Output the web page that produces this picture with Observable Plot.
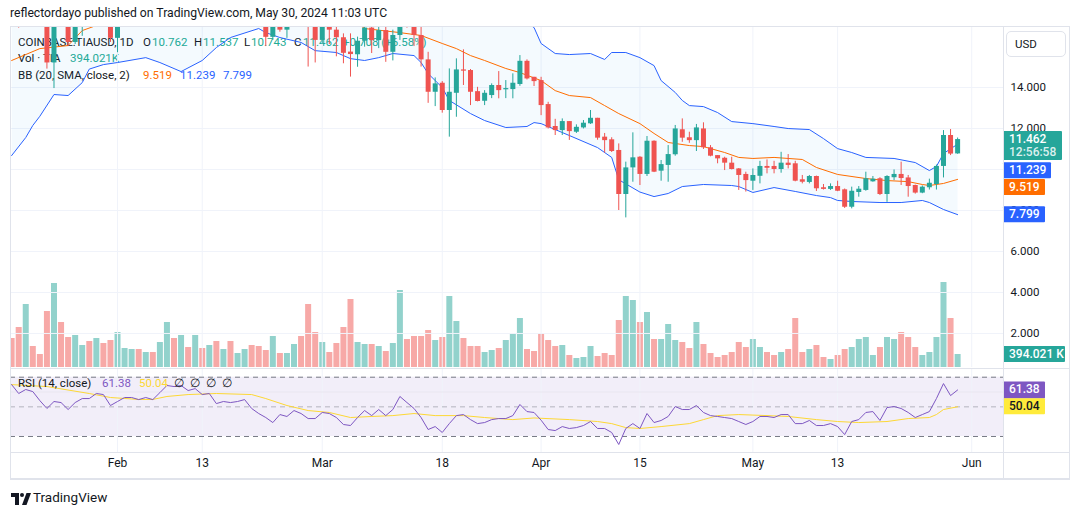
<!DOCTYPE html>
<html>
<head>
<meta charset="utf-8">
<script src="https://cdn.jsdelivr.net/npm/d3@7"></script>
<script src="https://cdn.jsdelivr.net/npm/@observablehq/plot@0.6"></script>
<style>
  body { margin: 0; background: #fff; }
  #chart { position: relative; width: 1080px; height: 515px; background: #fff; overflow: hidden;
           font-family: Roboto, "Liberation Sans", sans-serif; color: #131722; }
  #chart svg { position: absolute; left: 0; }
  .txt { position: absolute; white-space: pre; }
  .seg { position: absolute; white-space: pre; font-size: 11.5px; line-height: 16px; }
  .line { position: absolute; background: #e0e3eb; }
</style>
</head>
<body>
<div id="chart"></div>
<script>
// ---- TIA / USD daily, Coinbase (17 Jan – 30 May 2024) ----
const firstDay = "2024-01-17";
const open = [
  19.2, 18.9, 17.4, 18.3, 17.9, 17.4, 15.2, 17.6, 17.2, 16.2, 17.3, 18.0, 17.7, 18.3, 17.9,
  16.4, 17.4, 17.8, 18.1, 17.8, 18.2, 18.0, 18.8, 19.9, 19.7, 20.5, 19.9, 20.3, 19.6, 19.8,
  18.9, 19.1, 18.7, 19.0, 19.1, 18.2, 17.6, 16.45, 17.2, 16.8, 17.3, 17.9, 17.5, 17.0,
  16.3, 17.3, 16.8, 16.43, 15.73, 15.6, 16.26, 16.9, 16.29, 16.78, 15.72, 16.54, 17.8, 17.4,
  16.54, 15.35, 13.77, 14.21, 12.88, 13.72, 14.86, 14.83, 13.8, 13.33, 13.61, 14.1, 13.89,
  13.9, 14.15, 15.28, 14.5,
  14.34, 13.17, 12.1, 11.9, 12.34, 11.82, 12.03, 12.23, 12.5, 11.58, 11.45, 10.93, 8.78,
  10.08, 10.6, 9.76, 11.38, 9.92, 10.2, 10.72, 11.94, 11.55, 11.41, 11.98, 11.06, 10.68,
  10.55, 10.31, 10.03, 9.76,
  9.43, 9.67, 10.15, 10.15, 10.0, 10.31, 10.28, 9.5, 9.37, 9.66, 9.11, 9.03, 9.17, 9.01,
  8.16, 8.88, 8.98, 9.4, 9.55, 8.78, 9.6, 9.76, 9.59, 9.22, 8.85, 9.11, 9.27, 10.15, 11.66, 10.762
];
const high = [
  19.8, 19.1, 18.6, 18.5, 18.1, 17.6, 17.9, 17.9, 17.4, 17.5, 18.2, 18.4, 18.6, 18.8, 18.0,
  17.6, 18.0, 18.3, 18.3, 18.4, 18.4, 19.0, 20.2, 20.4, 20.9, 20.7, 20.6, 20.5, 20.1, 20.0,
  19.5, 19.2, 19.2, 19.4, 19.3, 18.3, 17.7, 17.5, 17.3, 17.5, 18.1, 18.3, 17.9, 17.4,
  17.6, 17.5, 17.0, 16.62, 16.62, 16.46, 17.3, 17.2, 17.0, 17.0, 16.8, 18.5, 18.2, 17.7,
  17.1, 15.72, 14.47, 14.29, 14.91, 15.4, 15.84, 14.88, 14.01, 13.85, 14.18, 14.78, 14.34,
  14.67, 15.56, 15.35, 14.5,
  14.5, 13.28, 12.45, 12.47, 12.34, 12.18, 12.39, 12.88, 12.5, 11.76, 11.55, 11.25, 10.36,
  11.79, 10.63, 11.61, 11.4, 10.44, 11.17, 12.15, 12.47, 11.82, 12.2, 12.28, 11.17, 10.68,
  10.6, 10.6, 10.05, 9.87,
  10.03, 10.4, 10.47, 10.4, 10.84, 10.73, 10.4, 9.71, 9.71, 9.68, 9.27, 9.3, 9.43, 9.05,
  9.14, 9.17, 9.87, 9.66, 9.6, 9.7, 9.98, 10.36, 9.71, 9.24, 9.2, 9.53, 10.22, 11.9, 11.95, 11.537
];
const low = [
  18.6, 16.9, 16.95, 17.6, 17.2, 14.9, 13.95, 17.0, 16.0, 16.1, 16.5, 17.5, 17.4, 17.6, 16.2,
  15.7, 17.1, 17.5, 17.6, 17.5, 17.7, 17.9, 18.6, 19.3, 19.5, 19.6, 19.4, 19.2, 19.3, 18.6,
  18.6, 18.4, 18.5, 18.6, 17.9, 17.2, 16.0, 16.3, 16.7, 16.4, 17.0, 17.2, 15.0, 15.2,
  16.1, 16.1, 15.5, 15.16, 14.51, 14.99, 15.97, 15.66, 15.9, 15.23, 15.3, 16.3, 16.9, 16.0,
  15.0, 13.23, 13.07, 12.75, 11.58, 12.55, 14.1, 13.12, 13.3, 13.12, 13.46, 13.45, 13.46,
  13.45, 14.06, 14.37, 14.05,
  12.63, 11.98, 11.66, 11.66, 11.42, 11.76, 11.98, 12.2, 11.43, 10.8, 10.83, 8.0, 7.64,
  9.38, 9.22, 9.66, 9.85, 9.43, 9.38, 10.65, 11.33, 11.28, 10.88, 10.98, 10.62, 10.28,
  9.95, 9.98, 8.98, 8.9,
  8.98, 9.3, 9.79, 9.79, 9.82, 10.03, 9.4, 9.3, 9.3, 8.93, 9.0, 8.98, 8.92, 8.1,
  8.08, 8.65, 8.94, 9.38, 8.73, 8.4, 9.46, 9.22, 8.65, 8.8, 8.82, 9.0, 9.0, 9.59, 10.68, 10.743
];
const close = [
  18.9, 17.4, 18.3, 17.9, 17.4, 15.2, 17.6, 17.2, 16.2, 17.3, 18.0, 17.7, 18.3, 17.9, 16.4,
  17.4, 17.8, 18.1, 17.8, 18.2, 18.0, 18.8, 19.9, 19.7, 20.5, 19.9, 20.3, 19.6, 19.8, 18.9,
  19.1, 18.7, 19.0, 19.1, 18.2, 17.6, 16.45, 17.2, 16.8, 17.3, 17.9, 17.5, 17.0, 16.3,
  17.3, 16.8, 16.43, 15.67, 15.61, 16.26, 16.9, 16.29, 16.78, 15.72, 16.54, 17.8, 17.4, 16.54,
  15.35, 13.77, 14.18, 12.88, 13.77, 14.86, 14.8, 13.77, 13.32, 13.72, 14.1, 13.85, 13.95,
  14.21, 15.28, 14.42, 14.29,
  13.12, 12.03, 11.9, 12.34, 11.85, 12.06, 12.26, 12.5, 11.53, 11.41, 10.88, 8.78, 10.08,
  10.57, 9.76, 11.38, 9.87, 10.24, 10.73, 11.98, 11.53, 11.41, 12.03, 11.06, 10.65, 10.52,
  10.31, 10.0, 9.71, 9.46,
  9.71, 10.15, 10.06, 10.0, 10.31, 10.2, 9.43, 9.38, 9.66, 9.06, 9.03, 9.17, 8.94, 8.16,
  8.94, 9.04, 9.55, 9.53, 8.78, 9.66, 9.76, 9.56, 9.17, 8.85, 9.14, 9.33, 10.15, 11.66, 10.754, 11.462
];
// volume, thousands of TIA
const volume = [
  879, 1212, 1910, 637, 394, 1697, 2546, 1364, 909, 970, 667, 788, 879, 727, 818,
  1061, 576, 546, 546, 455, 455, 758, 1364, 879, 970, 606, 970, 576, 667, 788,
  546, 788, 424, 546, 667, 637, 515, 940, 424, 424, 697, 940, 1910, 1061,
  758, 455, 727, 1212, 2061, 758, 697, 697, 637, 485, 727, 2334, 849, 940,
  940, 1121, 818, 909, 2152, 1394, 879, 637, 637, 455, 515, 576, 818,
  1000, 1485, 546, 485,
  1000, 818, 637, 667, 364, 273, 303, 637, 333, 424, 364, 1425, 2152,
  2031, 1364, 1667, 849, 849, 1303, 818, 758, 576, 1364, 697, 424, 303,
  364, 455, 758, 606,
  849, 606, 455, 364, 455, 546, 1485, 455, 546, 667, 303, 242, 364, 546,
  606, 849, 909, 364, 606, 909, 849, 1061, 909, 606, 364, 455, 909, 2576, 1485, 394.021
];
// RSI (14, close)
const rsi = [
  65.0, 59.0, 61.7, 60.3, 54.2, 48.9, 53.6, 52.9, 48.2, 52.9, 55.6, 55.6, 59.0, 58.3, 50.9,
  53.6, 56.3, 56.3, 54.9, 56.3, 54.9, 59.6, 64.4, 63.7, 64.4, 61.0, 62.3, 58.3, 59.0, 52.2,
  53.6, 52.9, 53.6, 54.9, 48.9, 45.5, 42.8, 39.4, 44.8, 43.5, 47.5, 45.5, 42.1, 42.1,
  46.2, 45.5, 42.8, 38.1, 37.4, 42.8, 47.5, 44.1, 48.2, 44.1, 48.2, 57.0, 52.9, 48.9,
  42.8, 34.7, 36.7, 32.7, 38.7, 44.1, 44.8, 41.4, 38.7, 39.4, 41.4, 42.1, 42.1,
  44.1, 51.6, 46.8, 46.2,
  41.0, 34.7, 34.0, 36.7, 35.4, 36.0, 37.4, 40.1, 35.4, 35.4, 32.7, 24.6, 35.4,
  38.7, 35.4, 45.5, 39.4, 40.8, 43.5, 50.2, 48.2, 48.2, 50.9, 46.2, 44.1, 43.5,
  42.8, 42.1, 40.1, 38.1,
  40.1, 43.5, 43.5, 42.8, 44.8, 44.8, 38.7, 38.7, 40.8, 37.4, 37.4, 38.7, 36.7, 31.3,
  40.1, 41.4, 46.2, 46.8, 40.8, 49.5, 50.2, 48.9, 46.2, 42.8, 44.8, 46.8, 55.6, 65.7, 57.6, 61.38
];
// RSI moving average (read at turning points)
const rsiMaDates = ["2024-01-17","2024-01-22","2024-01-28","2024-01-31","2024-02-04","2024-02-06","2024-02-08",
  "2024-02-11","2024-02-15","2024-02-20","2024-02-22","2024-02-25","2024-02-28","2024-03-02","2024-03-05",
  "2024-03-08","2024-03-11","2024-03-14","2024-03-17","2024-03-21","2024-03-24","2024-03-28","2024-03-31",
  "2024-04-05","2024-04-09","2024-04-11","2024-04-13","2024-04-15","2024-04-18","2024-04-22","2024-04-24",
  "2024-04-26","2024-04-29","2024-05-03","2024-05-06","2024-05-10","2024-05-13","2024-05-16","2024-05-20",
  "2024-05-23","2024-05-26","2024-05-27","2024-05-28","2024-05-30"];
const rsiMaValues = [65.0, 63.7, 59.0, 56.3, 55.0, 55.0, 57.0, 58.3, 59.0, 58.3, 55.6, 50.9, 47.5, 46.2, 42.8,
  43.5, 44.1, 45.5, 44.1, 44.1, 42.8, 41.4, 42.5, 41.4, 40.1, 38.7, 36.0, 35.4, 36.7, 38.7, 41.4,
  44.1, 44.8, 44.1, 43.5, 41.4, 40.1, 39.4, 40.1, 42.1, 42.8, 44.8, 48.2, 50.04];
// Bollinger Bands (20, SMA, close, 2)
const upperDates = ["2024-01-17","2024-01-25","2024-02-01","2024-02-08","2024-02-15","2024-02-22","2024-03-01",
  "2024-03-07","2024-03-15","2024-03-22","2024-03-27","2024-03-31","2024-04-01","2024-04-03","2024-04-05",
  "2024-04-08","2024-04-10","2024-04-11","2024-04-13","2024-04-15","2024-04-17","2024-04-18","2024-04-20",
  "2024-04-21","2024-04-22","2024-04-24","2024-04-26","2024-04-28","2024-05-01","2024-05-04","2024-05-06",
  "2024-05-09","2024-05-11","2024-05-13","2024-05-15","2024-05-17","2024-05-21","2024-05-24","2024-05-26",
  "2024-05-27","2024-05-28","2024-05-30"];
const upperValues = [19.96, 18.5, 19.6, 20.8, 21.5, 20.9, 20.4, 18.44, 17.86, 18.39, 17.8, 16.93, 16.15, 15.66, 15.61,
  15.66, 15.37, 15.71, 15.71, 15.46, 15.07, 14.34, 13.76, 13.37, 13.12, 13.07, 12.78, 12.34, 12.24, 12.10, 12.0,
  11.95, 11.51, 11.02, 10.83, 10.59, 10.54, 10.34, 9.95, 10.15, 10.78, 11.239];
const basisDates = ["2024-01-17","2024-01-21","2024-01-25","2024-01-27","2024-02-01","2024-02-08","2024-02-15",
  "2024-02-22","2024-03-01","2024-03-05","2024-03-07","2024-03-12","2024-03-15","2024-03-18","2024-03-20",
  "2024-03-22","2024-03-24","2024-03-27","2024-03-29","2024-04-01","2024-04-03","2024-04-05","2024-04-08",
  "2024-04-10","2024-04-12","2024-04-15","2024-04-17","2024-04-19","2024-04-22","2024-04-24","2024-04-27",
  "2024-04-29","2024-05-01","2024-05-04","2024-05-08","2024-05-10","2024-05-13","2024-05-17","2024-05-20",
  "2024-05-23","2024-05-25","2024-05-26","2024-05-28","2024-05-30"];
const basisValues = [15.32, 15.9, 16.05, 16.78, 17.4, 18.0, 18.7, 18.8, 18.0, 17.4, 16.88, 16.68, 16.54, 16.15, 15.9,
  15.56, 15.32, 14.93, 14.73, 14.34, 13.85, 13.61, 13.51, 13.12, 12.73, 12.24, 11.76, 11.32, 11.17, 11.12, 10.83,
  10.59, 10.54, 10.59, 10.49, 10.1, 9.76, 9.56, 9.46, 9.41, 9.27, 9.22, 9.32, 9.519];
const lowerDates = ["2024-01-17","2024-01-19","2024-01-20","2024-01-21","2024-01-23","2024-01-25","2024-01-27",
  "2024-01-28","2024-01-30","2024-02-01","2024-02-05","2024-02-07","2024-02-10","2024-02-13","2024-02-15",
  "2024-02-17","2024-02-21","2024-02-22","2024-02-24","2024-02-27","2024-02-29","2024-03-03","2024-03-05",
  "2024-03-07","2024-03-09","2024-03-11","2024-03-14","2024-03-15","2024-03-16","2024-03-18","2024-03-19",
  "2024-03-22","2024-03-24","2024-03-27","2024-03-30","2024-03-31","2024-04-01","2024-04-05","2024-04-09",
  "2024-04-11","2024-04-12","2024-04-13","2024-04-15","2024-04-17","2024-04-19","2024-04-21","2024-04-24",
  "2024-04-28","2024-04-29","2024-05-01","2024-05-04","2024-05-07","2024-05-10","2024-05-12","2024-05-13",
  "2024-05-15","2024-05-19","2024-05-22","2024-05-25","2024-05-26","2024-05-28","2024-05-30"];
const lowerValues = [10.68, 11.56, 12.15, 12.6, 13.66, 13.61, 14.24, 14.9, 15.12, 15.22, 15.46, 15.22, 14.78, 15.32, 15.95,
  16.44, 16.88, 16.68, 16.44, 16.2, 15.8, 15.71, 15.41, 15.32, 15.46, 15.66, 15.56, 15.22, 14.68, 14.0, 13.37,
  12.73, 12.39, 12.05, 12.1, 12.29, 12.24, 11.66, 11.07, 10.59, 9.5, 9.3, 8.9, 8.68, 8.83, 9.17, 9.27,
  9.22, 9.17, 8.88, 9.12, 8.93, 8.73, 8.63, 8.49, 8.44, 8.39, 8.39, 8.49, 8.39, 8.05, 7.799];
// axes (10.000 sits under the value tags and is not drawn)
const priceTicks = [2, 4, 6, 8, 10, 12, 14];
const priceLabels = [2, 4, 6, 8, 12, 14];
const timeTicks = ["2024-02-01","2024-02-13","2024-03-01","2024-03-18","2024-04-01","2024-04-15","2024-05-01","2024-05-13","2024-06-01"];
const timeLabels = ["Feb", "13", "Mar", "18", "Apr", "15", "May", "13", "Jun"];

// ---- colours ----
const UP = "#26a69a", DOWN = "#ef5350", BLUE = "#2962ff", ORANGE = "#ff6d00", PURPLE = "#7e57c2", YELLOW = "#fdd835";
const LEGEND_UP = "#22ab94";
const GRID = "#f0f3fa";
const FONT = "Roboto, 'Liberation Sans', sans-serif";

// ---- derived tables ----
const parse = d3.utcParse("%Y-%m-%d");
const days = d3.utcDays(parse(firstDay), d3.utcDay.offset(parse(firstDay), open.length));
const bars = days.map((date, i) => {
  const o = open[i], c = close[i];
  const up = c >= o;
  const c2 = Math.abs(c - o) < 0.05 ? o + (up ? 0.05 : -0.05) : c;
  return {date, open: o, high: high[i], low: low[i], close: c, bodyEnd: c2, up, volume: volume[i], rsi: rsi[i]};
});
const series = (ds, vs) => ds.map((d, i) => ({date: parse(d), value: vs[i]}));
const upper = series(upperDates, upperValues);
const basis = series(basisDates, basisValues);
const lower = series(lowerDates, lowerValues);
const bandPolygon = upper.concat(lower.slice().reverse());
const rsiMa = series(rsiMaDates, rsiMaValues);
const ticks = timeTicks.map(parse);

// ---- layout ----
const root = document.getElementById("chart");
const xDomain = [new Date(Date.UTC(2024, 0, 16, 20, 10)), new Date(Date.UTC(2024, 5, 5, 12))];
function pane(top, height, options) {
  const svg = Plot.plot({
    width: 1080, height, marginLeft: 10, marginRight: 77,
    x: {type: "utc", domain: xDomain, axis: null},
    style: {background: "transparent", overflow: "visible", fontFamily: FONT},
    ...options
  });
  svg.style.top = top + "px";
  root.append(svg);
  return svg;
}
function el(cls, css, html) {
  const d = document.createElement("div");
  d.className = cls;
  Object.assign(d.style, css);
  if (html != null) d.innerHTML = html;
  root.append(d);
  return d;
}
// one legend row: [text, left, colour] pieces on a shared baseline
function row(top, pieces) {
  for (const [text, left, color] of pieces) el("seg", {top: top + "px", left: left + "px", color: color || "#131722"}, text);
}

// title
el("txt", {left: "10px", top: "6px", fontSize: "12.2px", color: "#131722"},
   "reflectordayo published on TradingView.com, May 30, 2024 11:03 UTC");

// legend (under the series)
const last = bars[bars.length - 1], prev = bars[bars.length - 2];
const chg = last.close - prev.close;
const f3 = d3.format(".3f");
const sign = v => (v >= 0 ? "+" : "");
row(34, [
  ["COINBASE:TIAUSD, 1D", 18],
  ["O", 143], [f3(last.open), 152, LEGEND_UP],
  ["H", 194], [f3(last.high), 203, LEGEND_UP],
  ["L", 244], [f3(last.low), 251, LEGEND_UP],
  ["C", 294], [f3(last.close), 303, LEGEND_UP],
  [`${sign(chg)}${f3(chg)} (${sign(chg)}${d3.format(".2f")(chg / prev.close * 100)}%)`, 343, LEGEND_UP]
]);
row(50, [["Vol · TIA", 18], [f3(last.volume) + "K", 70, LEGEND_UP]]);
row(67, [
  ["BB (20, SMA, close, 2)", 18],
  [f3(basisValues.at(-1)), 143, ORANGE],
  [f3(upperValues.at(-1)), 180, BLUE],
  [f3(lowerValues.at(-1)), 223, BLUE]
]);

// volume overlay
pane(0, 370, {
  marginTop: 27, marginBottom: 3,
  y: {domain: [0, 394.021 * 340 / 13], axis: null},
  marks: [
    Plot.ruleX(bars, {x: "date", y1: 0, y2: "volume", stroke: d => d.up ? UP : DOWN, strokeOpacity: 0.5, strokeWidth: 6, clip: true})
  ]
});

// price pane
const price = pane(0, 370, {
  marginTop: 27, marginBottom: 3,
  y: {domain: [0.34, 16.93], axis: null},
  marks: [
    Plot.gridY(priceTicks, {stroke: GRID, strokeOpacity: 1}),
    Plot.gridX(ticks, {stroke: GRID, strokeOpacity: 1}),
    Plot.axisY(priceLabels, {anchor: "right", tickSize: 0, tickPadding: 7, tickFormat: f3, fontSize: 11.5, color: "#131722"}),
    Plot.line(bandPolygon, {x: "date", y: "value", fill: "#2196f3", fillOpacity: 0.05, stroke: "none", clip: true}),
    Plot.line(upper, {x: "date", y: "value", stroke: BLUE, strokeWidth: 1, clip: true}),
    Plot.line(lower, {x: "date", y: "value", stroke: BLUE, strokeWidth: 1, clip: true}),
    Plot.line(basis, {x: "date", y: "value", stroke: ORANGE, strokeWidth: 1, clip: true}),
    Plot.ruleX(bars, {x: "date", y1: "low", y2: "high", stroke: d => d.up ? UP : DOWN, strokeWidth: 1, clip: true}),
    Plot.ruleX(bars, {x: "date", y1: "open", y2: "bodyEnd", stroke: d => d.up ? UP : DOWN, strokeWidth: 5, clip: true})
  ]
});

// RSI pane with the time axis below it
const rsiPane = pane(369, 110, {
  marginTop: 0, marginBottom: 27,
  y: {domain: [19.2, 75.2], axis: null},
  marks: [
    Plot.rect([{}], {x1: xDomain[0], x2: xDomain[1], y1: 30, y2: 70, fill: PURPLE, fillOpacity: 0.1}),
    Plot.gridX(ticks, {stroke: GRID, strokeOpacity: 1}),
    Plot.ruleY([60], {stroke: "#e9e6f0"}),
    Plot.ruleY([70, 30], {stroke: "#787b86", strokeDasharray: "5,4"}),
    Plot.ruleY([50], {stroke: "#787b86", strokeOpacity: 0.5, strokeDasharray: "5,4"}),
    Plot.line(rsiMa, {x: "date", y: "value", stroke: YELLOW, strokeWidth: 1}),
    Plot.line(bars, {x: "date", y: "rsi", stroke: PURPLE, strokeWidth: 1}),
    Plot.text(ticks, {x: d => d, text: (d, i) => timeLabels[i], frameAnchor: "bottom", dy: 14, fontSize: 12, fill: "#131722"})
  ]
});

// RSI legend
row(375, [
  ["RSI (14, close)", 18],
  [rsi.at(-1).toFixed(2), 102, PURPLE],
  [rsiMaValues.at(-1).toFixed(2), 139, YELLOW],
  ["∅", 174], ["∅", 190], ["∅", 206], ["∅", 222]
]);

// frame and separators
el("line", {left: "10px", top: "26px", width: "1060px", height: "1px"});
el("line", {left: "10px", top: "478px", width: "1060px", height: "2px"});
el("line", {left: "10px", top: "26px", width: "1px", height: "454px"});
el("line", {left: "1069px", top: "26px", width: "1px", height: "454px"});
el("line", {left: "1003px", top: "26px", width: "1px", height: "453px"});
el("line", {left: "10px", top: "368px", width: "1060px", height: "1px"});
el("line", {left: "10px", top: "452px", width: "1060px", height: "1px"});

// currency button
el("txt", {left: "1006px", top: "31px", width: "58px", height: "24px", border: "1px solid #e0e3eb", borderRadius: "5px",
  fontSize: "11.5px", lineHeight: "24px", textIndent: "8px", background: "#fff"}, "USD");

// last-value tags on the right scale
function tag(svg, y, lines, bg, fg, w, h) {
  const g = d3.select(svg).append("g").attr("text-anchor", "start");
  g.append("rect").attr("x", 1003).attr("y", y - 8).attr("width", w).attr("height", h).attr("fill", bg).attr("rx", 1);
  lines.forEach((t, i) => g.append("text").attr("x", 1009).attr("y", y + 4 + i * 13)
    .attr("fill", i ? "rgba(255,255,255,0.85)" : fg).attr("font-size", 12).attr("font-weight", 500)
    .attr("font-family", FONT).text(t));
}
const py = price.scale("y");
tag(price, py.apply(last.close), [f3(last.close), "12:56:58"], UP, "#fff", 59, 29);
tag(price, py.apply(upperValues.at(-1)) + 26.5, [f3(upperValues.at(-1))], BLUE, "#fff", 48, 16);
tag(price, py.apply(basisValues.at(-1)) + 8, [f3(basisValues.at(-1))], ORANGE, "#fff", 42, 16);
tag(price, py.apply(lowerValues.at(-1)), [f3(lowerValues.at(-1))], BLUE, "#fff", 42, 16);
tag(price, 367 - (367 - 27) * last.volume / (394.021 * 340 / 13), [f3(last.volume) + " K"], UP, "#fff", 62, 16);
const ry = rsiPane.scale("y");
tag(rsiPane, ry.apply(rsi.at(-1)), [rsi.at(-1).toFixed(2)], PURPLE, "#fff", 42, 17);
tag(rsiPane, ry.apply(rsiMaValues.at(-1)), [rsiMaValues.at(-1).toFixed(2)], "#ffeb3b", "#131722", 42, 16);

// footer mark
el("txt", {left: "11px", top: "490px"},
  `<svg width="20" height="12" viewBox="0 0 20 12" style="position:static"><path d="M0 0h8v12H4V4H0z" fill="#131722"/><circle cx="11" cy="2" r="2" fill="#131722"/><path d="M11 12L15.5 0H20L15.5 12z" fill="#131722"/></svg>`);
el("txt", {left: "33px", top: "489px", fontSize: "13.5px", color: "#131722"}, "TradingView");
</script>
</body>
</html>
